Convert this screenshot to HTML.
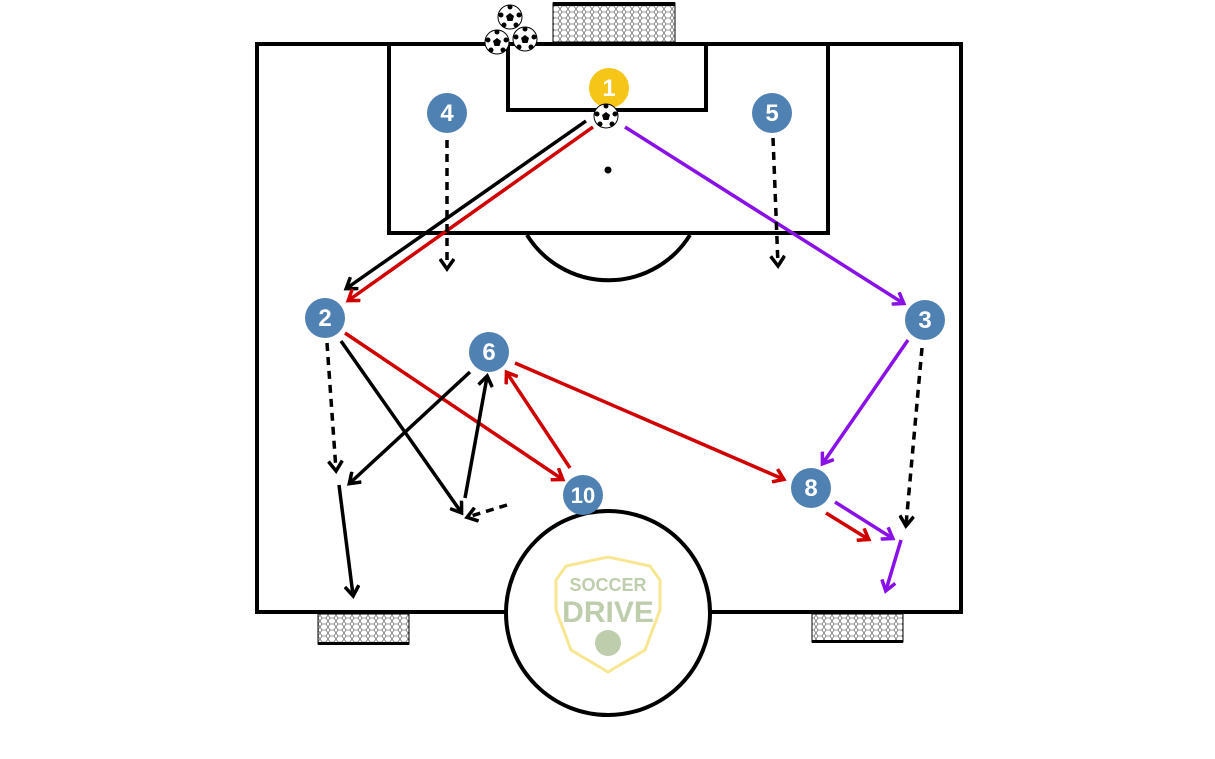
<!DOCTYPE html>
<html><head><meta charset="utf-8"><style>
html,body{margin:0;padding:0;background:#fff;}
svg{display:block;}
text{font-family:"Liberation Sans",sans-serif;font-weight:bold;fill:#fff;}
</style></head><body>
<svg width="1215" height="759" viewBox="0 0 1215 759" xmlns="http://www.w3.org/2000/svg">
<defs>
<pattern id="net" width="8" height="6" patternUnits="userSpaceOnUse">
<rect width="8" height="6" fill="#fff"/>
<path d="M0 3 L2 0 L6 0 L8 3 L6 6 L2 6 Z" fill="none" stroke="#777" stroke-width="0.8"/>
</pattern>
<marker id="hk" markerWidth="16" markerHeight="16" refX="12" refY="8" orient="auto" markerUnits="userSpaceOnUse"><path d="M3 1 L13 8 L3 15" fill="none" stroke="#000" stroke-width="3.5"/></marker>
<marker id="hr" markerWidth="16" markerHeight="16" refX="12" refY="8" orient="auto" markerUnits="userSpaceOnUse"><path d="M3 1 L13 8 L3 15" fill="none" stroke="#d00000" stroke-width="3.5"/></marker>
<marker id="hp" markerWidth="16" markerHeight="16" refX="12" refY="8" orient="auto" markerUnits="userSpaceOnUse"><path d="M3 1 L13 8 L3 15" fill="none" stroke="#8a10e8" stroke-width="3.5"/></marker>
<g id="ball"><circle r="12" fill="#fff" stroke="#000" stroke-width="1"/><polygon points="0,-4 4,-1 2.5,4 -2.5,4 -4,-1" fill="#000"/><circle cx="0" cy="-10" r="2.5" fill="#000"/><circle cx="9" cy="-2" r="2.5" fill="#000"/><circle cx="-9" cy="-2" r="2.5" fill="#000"/><circle cx="6" cy="8" r="2.5" fill="#000"/><circle cx="-6" cy="8" r="2.5" fill="#000"/></g>
</defs>
<rect x="553" y="3" width="122" height="39" fill="url(#net)" stroke="#000" stroke-width="1"/>
<rect x="553" y="2" width="122" height="4" fill="#000"/>
<rect x="318" y="614" width="91" height="30" fill="url(#net)" stroke="#000" stroke-width="1"/>
<rect x="318" y="642" width="91" height="3" fill="#000"/>
<rect x="812" y="614" width="91" height="28" fill="url(#net)" stroke="#000" stroke-width="1"/>
<rect x="812" y="640" width="91" height="3" fill="#000"/>
<g fill="none" stroke="#000" stroke-width="4">
<rect x="257" y="44" width="704" height="568"/>
<rect x="389" y="44" width="439" height="189"/>
<rect x="508" y="44" width="198" height="66"/>
<path d="M527 235 A96 96 0 0 0 690 235"/>
</g>
<circle cx="608" cy="170" r="3.5" fill="#000"/>
<ellipse cx="608" cy="613" rx="102" ry="102" fill="#fff" stroke="#000" stroke-width="4"/>
<g opacity="0.55">
<path d="M608 557 L650 566 L660 580 L660 610 L645 650 L608 672 L571 650 L556 610 L556 580 L566 566 Z" fill="none" stroke="#f2d23a" stroke-width="3"/>
<text x="608" y="591" font-size="18" text-anchor="middle" style="fill:#8aa56a">SOCCER</text>
<text x="608" y="622" font-size="30" text-anchor="middle" style="fill:#8aa56a">DRIVE</text>
<circle cx="608" cy="643" r="13" fill="#8aa56a"/>
</g>
<use href="#ball" x="510" y="17"/>
<use href="#ball" x="497" y="42"/>
<use href="#ball" x="525" y="39"/>
<g fill="none" stroke-width="3.5">
<line x1="586" y1="121" x2="347" y2="288" stroke="#000" marker-end="url(#hk)"/>
<line x1="593" y1="127" x2="349" y2="300" stroke="#d00000" marker-end="url(#hr)"/>
<line x1="625" y1="127" x2="903" y2="303" stroke="#8a10e8" marker-end="url(#hp)"/>
<line x1="447" y1="140" x2="447" y2="268" stroke="#000" stroke-dasharray="8,6" marker-end="url(#hk)"/>
<line x1="773" y1="138" x2="778" y2="265" stroke="#000" stroke-dasharray="8,6" marker-end="url(#hk)"/>
<line x1="345" y1="333" x2="562" y2="479" stroke="#d00000" marker-end="url(#hr)"/>
<line x1="341" y1="341" x2="461" y2="512" stroke="#000" marker-end="url(#hk)"/>
<line x1="327" y1="343" x2="336" y2="470" stroke="#000" stroke-dasharray="8,6" marker-end="url(#hk)"/>
<line x1="470" y1="372" x2="350" y2="483" stroke="#000" marker-end="url(#hk)"/>
<line x1="465" y1="498" x2="487" y2="377" stroke="#000" marker-end="url(#hk)"/>
<line x1="570" y1="468" x2="507" y2="373" stroke="#d00000" marker-end="url(#hr)"/>
<line x1="515" y1="363" x2="783" y2="479" stroke="#d00000" marker-end="url(#hr)"/>
<line x1="908" y1="340" x2="823" y2="463" stroke="#8a10e8" marker-end="url(#hp)"/>
<line x1="922" y1="348" x2="906" y2="525" stroke="#000" stroke-dasharray="8,6" marker-end="url(#hk)"/>
<line x1="507" y1="505" x2="468" y2="517" stroke="#000" stroke-dasharray="8,6" marker-end="url(#hk)"/>
<line x1="339" y1="485" x2="353" y2="595" stroke="#000" marker-end="url(#hk)"/>
<line x1="835" y1="502" x2="892" y2="538" stroke="#8a10e8" marker-end="url(#hp)"/>
<line x1="826" y1="513" x2="868" y2="539" stroke="#d00000" marker-end="url(#hr)"/>
<line x1="901" y1="540" x2="886" y2="590" stroke="#8a10e8" marker-end="url(#hp)"/>
</g>
<g font-size="24" text-anchor="middle">
<circle cx="609" cy="88" r="20" fill="#f5c518"/><text x="609" y="96">1</text>
<circle cx="447" cy="113" r="20" fill="#4f81b3"/><text x="447" y="121">4</text>
<circle cx="772" cy="113" r="20" fill="#4f81b3"/><text x="772" y="121">5</text>
<circle cx="325" cy="318" r="20" fill="#4f81b3"/><text x="325" y="326">2</text>
<circle cx="925" cy="320" r="20" fill="#4f81b3"/><text x="925" y="328">3</text>
<circle cx="489" cy="352" r="20" fill="#4f81b3"/><text x="489" y="360">6</text>
<circle cx="583" cy="495" r="20" fill="#4f81b3"/><text x="583" y="503" font-size="22">10</text>
<circle cx="811" cy="488" r="20" fill="#4f81b3"/><text x="811" y="496">8</text>
</g>
<use href="#ball" x="606" y="116"/>
</svg>
</body></html>
